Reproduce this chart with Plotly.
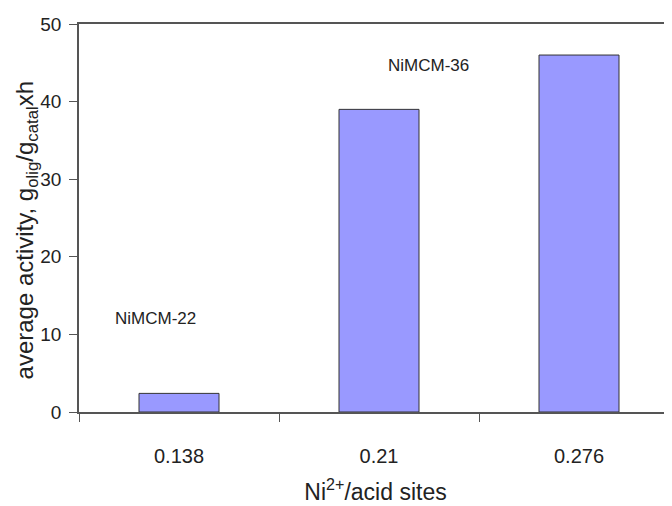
import plotly.graph_objects as go

# Ni2+/acid sites ratio per catalyst and average activity
ratios = ["0.138", "0.21", "0.276"]
activity = [2.4, 39.0, 46.0]

label_names = ["NiMCM-22", "NiMCM-36"]
label_x = [-0.12, 1.245]
label_y = [12.1, 44.6]

font = "Liberation Sans, Arial, sans-serif"

fig = go.Figure()
fig.add_trace(go.Bar(
    x=ratios,
    y=activity,
    width=0.4,
    marker=dict(color="#9999ff", line=dict(color="#333333", width=1)),
))

for name, xi, yi in zip(label_names, label_x, label_y):
    fig.add_annotation(x=xi, y=yi, text=name, showarrow=False,
                       font=dict(size=17, color="#222222", family=font))

# y title as a rotated annotation so it can sit a bit below the middle
fig.add_annotation(
    xref="paper", yref="paper", x=-0.088, y=0.47,
    xanchor="center", yanchor="middle", textangle=-90, showarrow=False,
    text="average activity, g<sub>olig</sub>/g<sub>catal</sub>xh",
    font=dict(size=24, color="#222222", family=font),
)

# page body adds an 8px margin, so the figure is sized to fit inside it
fig.update_layout(
    width=664,
    height=498,
    margin=dict(l=71, r=0, t=16, b=94),
    plot_bgcolor="white",
    paper_bgcolor="white",
    showlegend=False,
    font=dict(family=font, color="#222222"),
)

fig.update_xaxes(
    type="category",
    range=[-0.5, 2.465],
    automargin=False,
    tickson="boundaries",
    ticks="outside",
    ticklen=8,
    tickcolor="#555555",
    tickfont=dict(size=20),
    ticklabelstandoff=25,
    showline=True,
    linecolor="#555555",
    linewidth=1.5,
    mirror=True,
    showgrid=False,
    title=dict(text="Ni<sup>2+</sup>/acid sites", font=dict(size=23), standoff=18),
)
fig.update_yaxes(
    range=[0, 50],
    dtick=10,
    automargin=False,
    ticks="outside",
    ticklen=8,
    tickcolor="#555555",
    tickfont=dict(size=19),
    ticklabelstandoff=4,
    showline=True,
    linecolor="#555555",
    linewidth=1.5,
    showgrid=False,
    zeroline=False,
)

fig.write_html("out.html")
